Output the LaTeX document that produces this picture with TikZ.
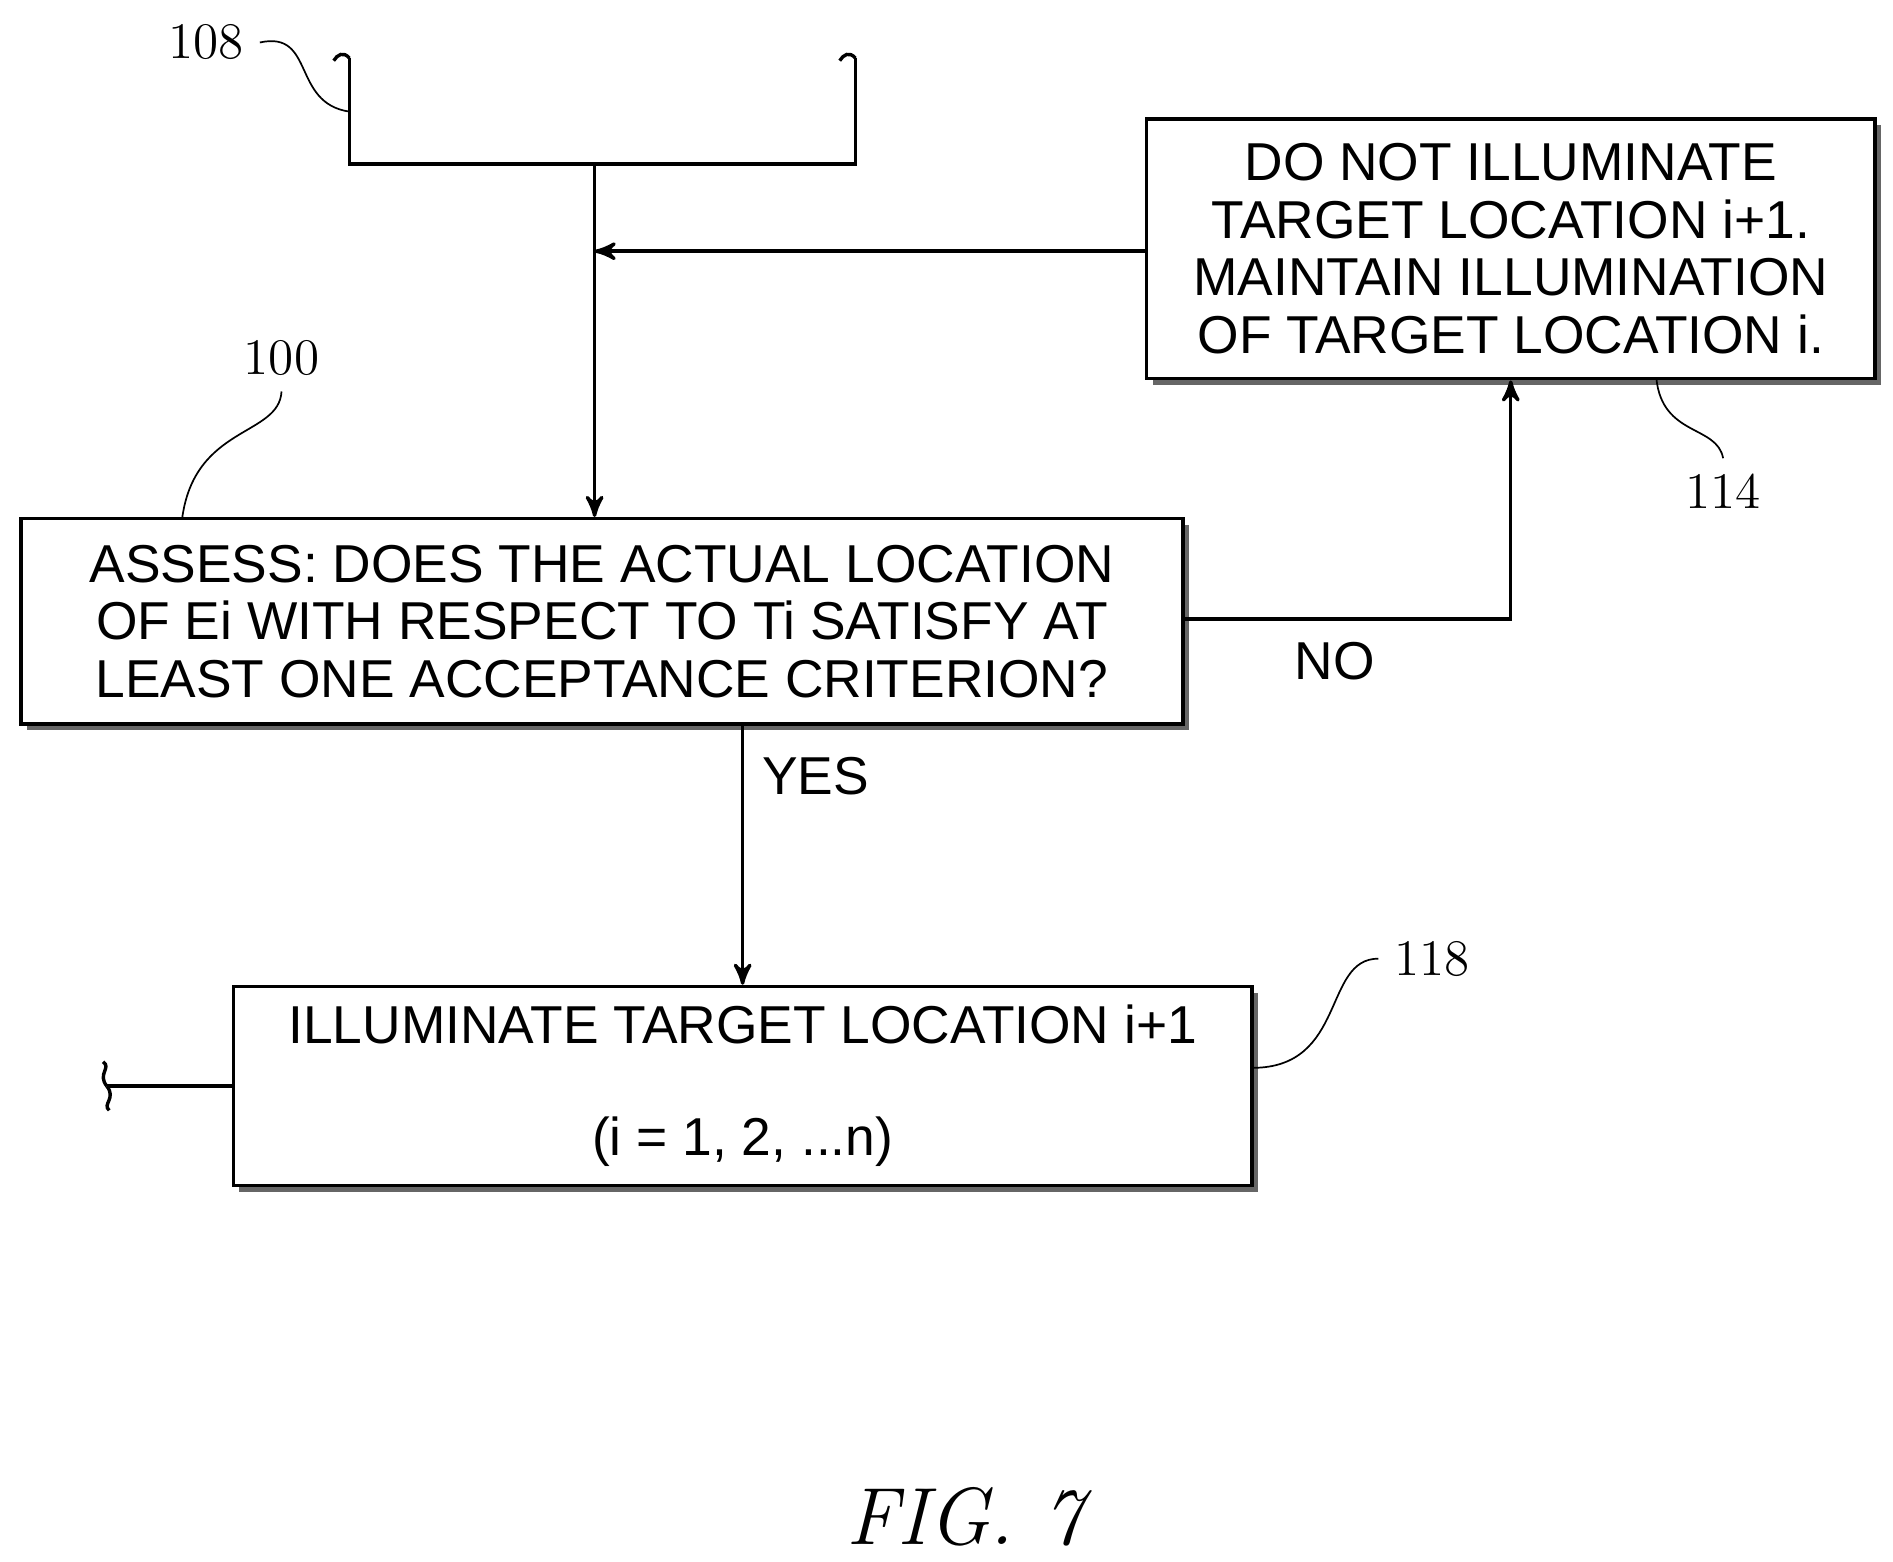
\documentclass[tikz,border=0pt]{standalone}
\usepackage{fontspec}
\setmainfont{Liberation Sans}
\usetikzlibrary{arrows,positioning,shadows}
\begin{document}
\begin{tikzpicture}[x=0.01cm,y=-0.01cm,>=stealth',thick,
    step box/.style={draw,fill=white,align=center,inner sep=0pt,
      drop shadow={shadow xshift=0.05cm,shadow yshift=-0.05cm,fill=black!60,opacity=1},
      font=\fontsize{12.5}{13.5}\selectfont},
    ref label/.style={font=\fontfamily{lmr}\fontsize{12}{12}\selectfont},
    lead/.style={thin}]
  \useasboundingbox (0,0) rectangle (1560,1287);

  % boxes
  \node[step box,minimum width=6cm,minimum height=2.14cm] (hold) at (1245,205)
    {DO NOT ILLUMINATE\\TARGET LOCATION i+1.\\MAINTAIN ILLUMINATION\\OF TARGET LOCATION i.};
  \node[step box,minimum width=9.57cm,minimum height=1.69cm] (assess) at (496,512)
    {ASSESS: DOES THE ACTUAL LOCATION\\OF Ei WITH RESPECT TO Ti SATISFY AT\\LEAST ONE ACCEPTANCE CRITERION?};
  \node[step box,minimum width=8.39cm,minimum height=1.64cm] (lit) at (612,895)
    {ILLUMINATE TARGET LOCATION i+1\\[0.45cm](i = 1, 2, ...n)};

  % incoming bracket
  \coordinate (inL) at (288,48);
  \coordinate (inR) at (705,48);
  \coordinate (join) at (490,135);
  \coordinate (merge) at (490,207);
  \draw (inL) -- (288,135) -- (705,135) -- (inR);
  \draw (inL) .. controls (283,42) and (278,45) .. (275,50);
  \draw (inR) .. controls (700,42) and (695,45) .. (692,50);
  \draw[->] (join) -- (assess.north -| join);
  \draw[->] (hold.west |- merge) -- (merge);

  % decisions
  \coordinate (noturn) at (1245,510);
  \draw[->] (assess.east |- noturn) -- (noturn) -- (hold.south);
  \node at (1100,545) {\fontsize{12.5}{13}\selectfont NO};
  \draw[->] (612,597) -- (lit.north);
  \node at (672,640) {\fontsize{12.5}{13}\selectfont YES};

  % outgoing stub
  \coordinate (out) at (88,895);
  \draw (lit.west) -- (out);
  \draw (out) .. controls (80,885) and (92,880) .. (85,875);
  \draw (out) .. controls (96,905) and (84,910) .. (90,915);

  % reference numerals
  \node[ref label] (n108) at (170,35) {108};
  \draw[lead] (n108.east) .. controls (260,25) and (240,85) .. (288,92);
  \node[ref label] (n100) at (232,295) {100};
  \draw[lead] (n100.south) .. controls (230,360) and (160,350) .. (150,428);
  \node[ref label] (n114) at (1420,405) {114};
  \draw[lead] (n114.north) .. controls (1415,350) and (1370,360) .. (1365,312);
  \node[ref label] (n118) at (1180,790) {118};
  \draw[lead] (n118.west) .. controls (1090,790) and (1110,880) .. (1032,880);

  \node (fig) at (795,1250) {\fontfamily{lmr}\fontsize{19}{19}\selectfont\itshape FIG. 7};
\end{tikzpicture}
\end{document}
